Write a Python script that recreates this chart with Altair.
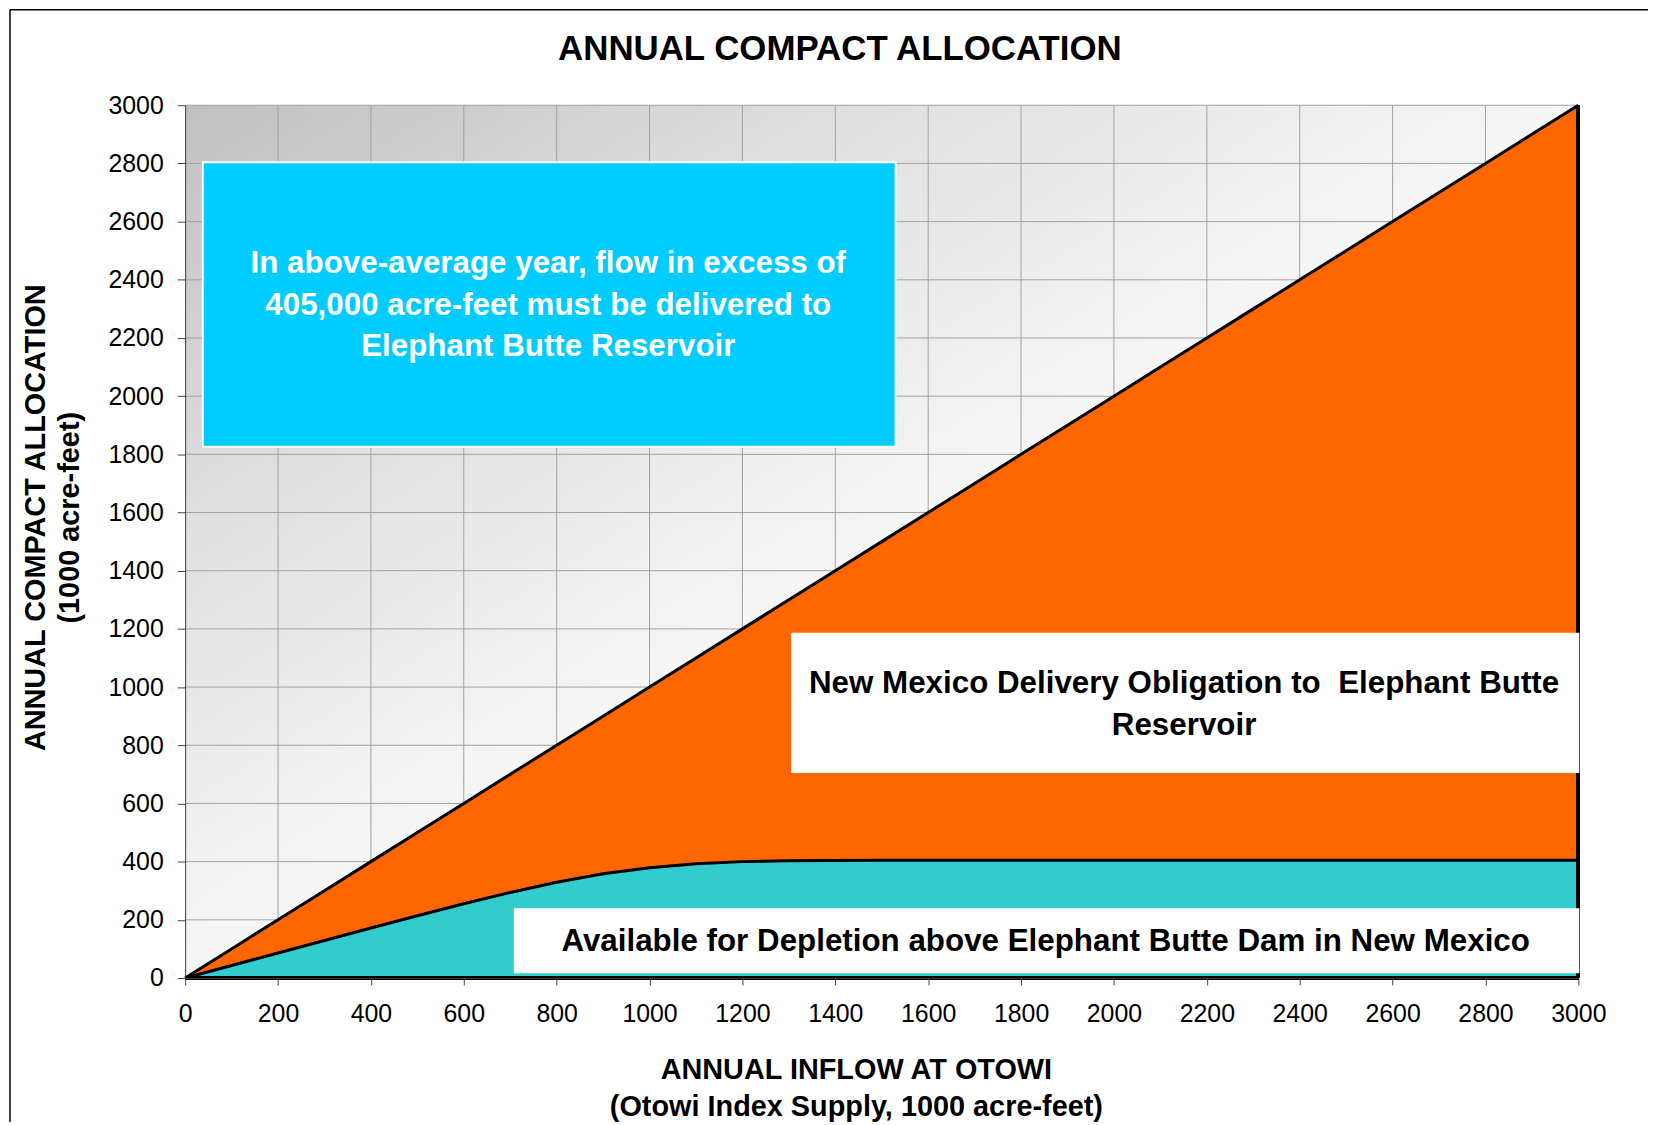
import altair as alt
import pandas as pd

# ---- data ----
otowi = [0, 100, 200, 300, 400, 500, 600, 700, 800, 900, 1000, 1100, 1200, 1300, 1400,
         1500, 1600, 1700, 1800, 1900, 2000, 2100, 2200, 2300, 2400, 2500, 2600, 2700,
         2800, 2900, 3000]
total_alloc = [0, 100, 200, 300, 400, 500, 600, 700, 800, 900, 1000, 1100, 1200, 1300, 1400,
               1500, 1600, 1700, 1800, 1900, 2000, 2100, 2200, 2300, 2400, 2500, 2600, 2700,
               2800, 2900, 3000]
depletion = [0, 43, 86, 129, 172, 214, 255, 294, 329, 358, 379, 393, 400, 403, 404,
             405, 405, 405, 405, 405, 405, 405, 405, 405, 405, 405, 405, 405,
             405, 405, 405]

tick_values = [0, 200, 400, 600, 800, 1000, 1200, 1400, 1600, 1800, 2000, 2200, 2400,
               2600, 2800, 3000]
vgrid_values = [200, 400, 600, 800, 1000, 1200, 1400, 1600, 1800, 2000, 2200, 2400, 2600, 2800]
hgrid_values = [200, 400, 600, 800, 1000, 1200, 1400, 1600, 1800, 2000, 2200, 2400, 2600, 2800, 3000]

box_names = ["excess", "delivery", "depletion"]
box_x1 = [38, 1307, 710]
box_x2 = [1530, 3000, 3000]
box_y1 = [1826, 708, 20]
box_y2 = [2804, 1183, 236]
box_fill = ["#00CCFF", "#FFFFFF", "#FFFFFF"]

label_text = [
    "In above-average year, flow in excess of\n405,000 acre-feet must be delivered to\nElephant Butte Reservoir",
    "New Mexico Delivery Obligation to \u00a0Elephant Butte\nReservoir",
    "Available for Depletion above Elephant Butte Dam in New Mexico",
]
label_x = [782, 2151, 1853]
label_y = [2455, 1011, 123]
label_color = ["#FFFFFF", "#000000", "#000000"]

FONT = "Liberation Sans"
W, H = 1400, 877

curve = pd.DataFrame({"otowi": otowi, "total": total_alloc, "depl": depletion})
boxes = pd.DataFrame({"name": box_names, "x1": box_x1, "x2": box_x2, "y1": box_y1,
                      "y2": box_y2, "fill": box_fill})
labels = pd.DataFrame({"t": label_text, "x": label_x, "y": label_y, "c": label_color})
bg = pd.DataFrame({"x1": [0], "x2": [3000], "y1": [0], "y2": [3000]})
vg = pd.DataFrame({"v": vgrid_values})
hg = pd.DataFrame({"v": hgrid_values})
one = pd.DataFrame({"t": ["ANNUAL COMPACT ALLOCATION"]})

xs = alt.Scale(domain=[0, 3000], nice=False, zero=False)
ys = alt.Scale(domain=[0, 3000], nice=False, zero=False)

xaxis = alt.Axis(values=tick_values, grid=False, format="d", labelFontSize=25, labelFont=FONT,
                 labelColor="#000000", tickColor="#404040", tickSize=7, domainColor="#404040",
                 labelPadding=17, labelFlush=False, labelOverlap=False, labelBound=False,
                 zindex=1,
                 title=["ANNUAL INFLOW AT OTOWI", "(Otowi Index Supply, 1000 acre-feet)"],
                 titleFont=FONT, titleFontSize=29, titleFontWeight="bold", titleColor="#000000",
                 titleX=674, titleY=101, titleBaseline="alphabetic", titleAlign="center",
                 titleLineHeight=37, titleAngle=0)
yaxis = alt.Axis(values=tick_values, grid=False, format="d", labelFontSize=25, labelFont=FONT,
                 labelColor="#000000", tickColor="#404040", tickSize=8, domainColor="#404040",
                 labelPadding=14, labelFlush=False, labelOverlap=False, labelBound=False,
                 zindex=1,
                 title=["ANNUAL COMPACT ALLOCATION", "(1000 acre-feet)"],
                 titleFont=FONT, titleFontSize=29, titleFontWeight="bold", titleColor="#000000",
                 titleX=-141, titleY=414, titleBaseline="alphabetic", titleAlign="center",
                 titleLineHeight=34, titleAngle=270)

gradient = alt.Gradient(
    gradient="linear", x1=0, y1=0, x2=1, y2=1,
    stops=[alt.GradientStop(color="#c0c0c0", offset=0),
           alt.GradientStop(color="#e0e0e0", offset=0.25),
           alt.GradientStop(color="#f6f6f6", offset=0.5),
           alt.GradientStop(color="#ffffff", offset=1)])

background = alt.Chart(bg).mark_rect(fill=gradient, strokeWidth=0).encode(
    x=alt.X("x1:Q", scale=xs, axis=xaxis), x2="x2:Q",
    y=alt.Y("y1:Q", scale=ys, axis=yaxis), y2="y2:Q")

vgrid = alt.Chart(vg).mark_rule(color="#a0a0a0", strokeWidth=1).encode(
    x=alt.X("v:Q", scale=xs), y=alt.datum(0), y2=alt.datum(3000))
hgrid = alt.Chart(hg).mark_rule(color="#a0a0a0", strokeWidth=1).encode(
    y=alt.Y("v:Q", scale=ys), x=alt.datum(0), x2=alt.datum(3000))

orange = alt.Chart(curve).mark_area(color="#FF6600", opacity=1).encode(
    x=alt.X("otowi:Q", scale=xs), y=alt.Y("total:Q", scale=ys), y2=alt.datum(0))
teal = alt.Chart(curve).mark_area(color="#33CCCC", opacity=1).encode(
    x=alt.X("otowi:Q", scale=xs), y=alt.Y("depl:Q", scale=ys), y2=alt.datum(0))
line_total = alt.Chart(curve).mark_line(color="#000000", strokeWidth=3).encode(
    x=alt.X("otowi:Q", scale=xs), y=alt.Y("total:Q", scale=ys))
line_depl = alt.Chart(curve).mark_line(color="#000000", strokeWidth=3).encode(
    x=alt.X("otowi:Q", scale=xs), y=alt.Y("depl:Q", scale=ys))

box_rects = alt.Chart(boxes).mark_rect(stroke="#FFFFFF", strokeWidth=2).encode(
    x=alt.X("x1:Q", scale=xs), x2="x2:Q", y=alt.Y("y1:Q", scale=ys), y2="y2:Q",
    fill=alt.Fill("fill:N", scale=None))

right_edge = alt.Chart(curve).mark_rule(color="#000000", strokeWidth=3).encode(
    x=alt.datum(3000), y=alt.datum(0), y2=alt.datum(3000))
bottom_edge = alt.Chart(curve).mark_rule(color="#000000", strokeWidth=3).encode(
    y=alt.datum(0), x=alt.datum(0), x2=alt.datum(3000))

texts = alt.Chart(labels).mark_text(font=FONT, fontSize=31.5, fontWeight="bold",
                                    lineBreak="\n", lineHeight=42, align="center",
                                    baseline="middle").encode(
    x=alt.X("x:Q", scale=xs), y=alt.Y("y:Q", scale=ys), text="t:N",
    color=alt.Color("c:N", scale=None))

title = alt.Chart(one).mark_text(font=FONT, fontSize=35, fontWeight="bold", align="center",
                                 baseline="middle", color="#000000").encode(
    x=alt.value(658), y=alt.value(-56), text="t:N")

frame_left = alt.Chart(one).mark_rule(color="#000000", strokeWidth=1.5).encode(
    x=alt.value(-176), y=alt.value(-96), y2=alt.value(H + 160))
frame_top = alt.Chart(one).mark_rule(color="#000000", strokeWidth=1.5).encode(
    y=alt.value(-96), x=alt.value(-176), x2=alt.value(W + 80))

chart = alt.layer(background, vgrid, hgrid, orange, teal, line_total, line_depl,
                  right_edge, bottom_edge, box_rects, texts, title, frame_left, frame_top
                  ).properties(
    width=W, height=H,
    autosize=alt.AutoSizeParams(type="none"),
    padding={"left": 178, "top": 95, "right": 70, "bottom": 142},
).configure_view(strokeWidth=0).configure(background="#FFFFFF")

chart.save("out.html", embed_options={"renderer": "svg", "actions": False})
